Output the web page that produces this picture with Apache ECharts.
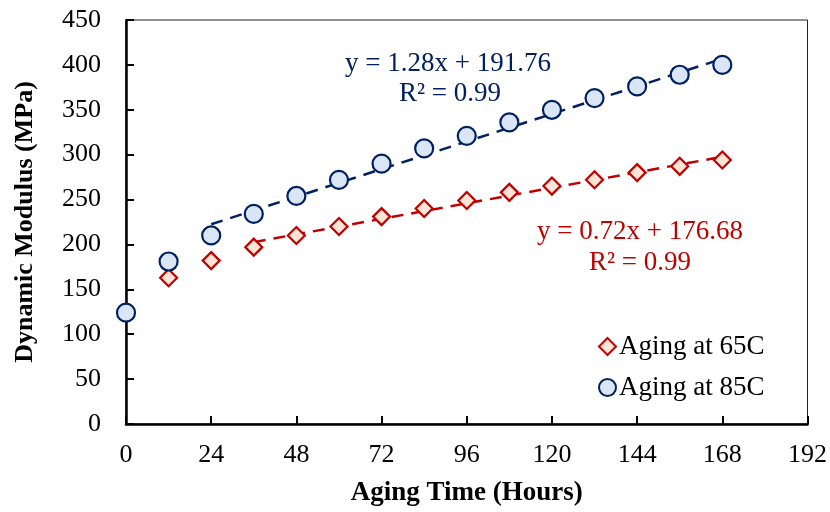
<!DOCTYPE html>
<html>
<head>
<meta charset="utf-8">
<script src="https://cdn.jsdelivr.net/npm/echarts@6/dist/echarts.min.js"></script>
<style>html,body{margin:0;padding:0;background:#fff;}#c{width:830px;height:512px;}</style>
</head>
<body>
<div id="c"></div>
<script>
// Aging time (hours) and measured dynamic modulus (MPa)
const hours65 = [12, 24, 36, 48, 60, 72, 84, 96, 108, 120, 132, 144, 156, 168];
const modulus65 = [163, 182, 197, 210, 220, 231, 240, 249, 258, 265, 272, 280, 287, 294];
const hours85 = [0, 12, 24, 36, 48, 60, 72, 84, 96, 108, 120, 132, 144, 156, 168];
const modulus85 = [124, 181, 210, 234, 254, 272, 290, 307, 321, 336, 350, 363, 376, 389, 400];

// Linear trendline coefficients and fitted ranges
const fit65 = { slope: 0.72, intercept: 176.68, from: 36, to: 168 };
const fit85 = { slope: 1.28, intercept: 191.76, from: 24, to: 168 };

const xTicks = [0, 24, 48, 72, 96, 120, 144, 168, 192];

const RED = '#C00000', RED_FILL = '#FCE4D6';
const BLUE = '#002060', BLUE_FILL = '#DAE6F5';
const FONT = '"Liberation Serif", "Times New Roman", serif';

const pairs = (xs, ys) => xs.map((x, i) => [x, ys[i]]);
const fitLine = f => [[f.from, f.slope * f.from + f.intercept], [f.to, f.slope * f.to + f.intercept]];

const chart = echarts.init(document.getElementById('c'), null, { renderer: 'canvas' });
chart.setOption({
  animation: false,
  backgroundColor: '#fff',
  grid: { left: 126, right: 22, top: 20, bottom: 87, show: true, borderColor: '#222', borderWidth: 1 },
  xAxis: {
    type: 'value', min: 0, max: 192, interval: 24,
    name: 'Aging Time (Hours)', nameLocation: 'middle', nameGap: 56,
    nameTextStyle: { fontFamily: FONT, fontSize: 27, fontWeight: 'bold', color: '#000' },
    axisLine: { lineStyle: { color: '#000', width: 2.5 } },
    axisTick: { inside: true, length: 8, lineStyle: { color: '#000', width: 2 } },
    axisLabel: { fontFamily: FONT, fontSize: 26, color: '#000', margin: 18,
      formatter: v => xTicks.includes(v) ? String(v) : '' },
    splitLine: { show: false }
  },
  yAxis: {
    type: 'value', min: 0, max: 450, interval: 50,
    name: 'Dynamic Modulus (MPa)', nameLocation: 'middle', nameGap: 88,
    nameTextStyle: { fontFamily: FONT, fontSize: 26, fontWeight: 'bold', color: '#000' },
    axisLine: { lineStyle: { color: '#000', width: 2.5 } },
    axisTick: { inside: true, length: 8, lineStyle: { color: '#000', width: 2 } },
    axisLabel: { fontFamily: FONT, fontSize: 26, color: '#000', margin: 25 },
    splitLine: { show: false }
  },
  legend: {
    orient: 'vertical', left: 593, top: 328, itemGap: 14,
    itemWidth: 17, itemHeight: 17,
    textStyle: { fontFamily: FONT, fontSize: 27, color: '#000', padding: [0, 0, 0, -2] },
    data: [
      { name: 'Aging at 65C', icon: 'diamond' },
      { name: 'Aging at 85C', icon: 'circle' }
    ]
  },
  series: [
    {
      name: 'fit85', type: 'line', data: fitLine(fit85), symbol: 'none', silent: true,
      lineStyle: { color: BLUE, width: 2.5, type: [12, 8] }, z: 1
    },
    {
      name: 'fit65', type: 'line', data: fitLine(fit65), symbol: 'none', silent: true,
      lineStyle: { color: RED, width: 2.5, type: [12, 8] }, z: 1
    },
    {
      name: 'Aging at 65C', type: 'scatter', data: pairs(hours65, modulus65),
      symbol: 'diamond', symbolSize: 17,
      itemStyle: { color: RED_FILL, borderColor: RED, borderWidth: 2.2, opacity: 1 }, z: 3
    },
    {
      name: 'Aging at 85C', type: 'scatter', data: pairs(hours85, modulus85),
      symbol: 'circle', symbolSize: 18,
      itemStyle: { color: BLUE_FILL, borderColor: BLUE, borderWidth: 2.2, opacity: 1 }, z: 3
    }
  ],
  graphic: [
    { type: 'text', left: 345, top: 50, style: { text: 'y = 1.28x + 191.76', font: '27px ' + FONT, fill: BLUE } },
    { type: 'text', left: 399, top: 80, style: { text: 'R² = 0.99', font: '27px ' + FONT, fill: BLUE } },
    { type: 'text', left: 537, top: 218, style: { text: 'y = 0.72x + 176.68', font: '27px ' + FONT, fill: RED } },
    { type: 'text', left: 589, top: 249, style: { text: 'R² = 0.99', font: '27px ' + FONT, fill: RED } }
  ]
});
</script>
</body>
</html>
